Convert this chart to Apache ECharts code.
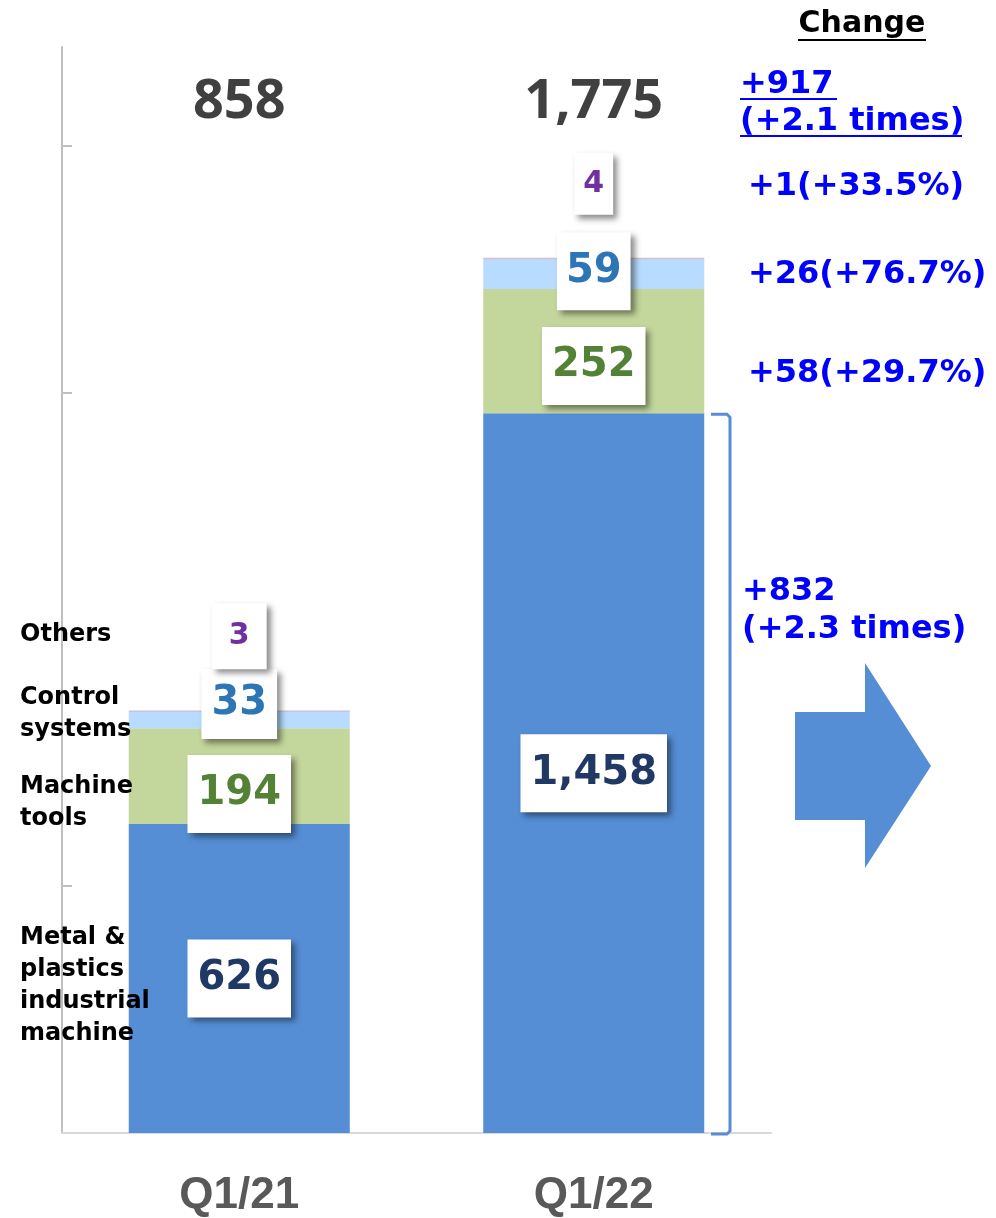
<!DOCTYPE html>
<html>
<head>
<meta charset="utf-8">
<script src="https://cdn.jsdelivr.net/npm/echarts@6/dist/echarts.min.js"></script>
<style>
  html, body { margin: 0; padding: 0; background: #fff; }
  #chart { width: 996px; height: 1218px; }
</style>
</head>
<body>
<div id="chart"></div>
<script>
// Quarterly orders by segment, stacked
const categories = ['Q1/21', 'Q1/22'];
const metal = [626, 1458];
const machineTools = [194, 252];
const controlSystems = [33, 59];
const others = [3, 4];
const totals = [858, 1775];
const tickValues = [500, 1500, 2000];

const segmentNames = ['Metal &\nplastics\nindustrial\nmachine', 'Machine\ntools', 'Control\nsystems', 'Others'];
const changeTitle = 'Change';
const totalChange = ['+917', '(+2.1 times)'];
const othersChange = '+1(+33.5%)';
const controlChange = '+26(+76.7%)';
const machineChange = '+58(+29.7%)';
const metalChange = ['+832', '(+2.3 times)'];

const FONT = '"DejaVu Sans", Verdana, sans-serif';
const BLUE = '#558ED5';

const fmt = v => v.toLocaleString('en-US');

function boxLabel(color, size, lh, padding, offset) {
  return {
    show: true,
    position: 'inside',
    formatter: p => fmt(p.value),
    color: color,
    fontFamily: FONT,
    fontWeight: 'bold',
    fontSize: size,
    lineHeight: lh,
    backgroundColor: '#ffffff',
    padding: padding,
    offset: offset,
    shadowColor: 'rgba(0,0,0,0.45)',
    shadowBlur: 6,
    shadowOffsetX: 4,
    shadowOffsetY: 4
  };
}

// per-point label placement
function items(values, labels) {
  return values.map((v, i) => ({ value: v, label: labels[i] }));
}

const chart = echarts.init(document.getElementById('chart'), null, { renderer: 'canvas' });

const option = {
  animation: false,
  backgroundColor: '#ffffff',
  grid: { left: 62, right: 225, top: 47, bottom: 83 },
  xAxis: {
    type: 'category',
    data: categories,
    axisLine: { lineStyle: { color: '#D9D9D9', width: 2 } },
    axisTick: { show: false },
    axisLabel: {
      fontSize: 44,
      fontWeight: 'bold',
      color: '#595959',
      fontFamily: '"Liberation Sans", Arial, sans-serif',
      margin: 41
    }
  },
  yAxis: {
    type: 'value',
    min: 0,
    max: 2200,
    interval: 500,
    axisLine: { show: true, lineStyle: { color: '#BFBFBF', width: 2 } },
    axisTick: {
      show: true,
      inside: true,
      length: 10,
      customValues: tickValues,
      lineStyle: { color: '#BFBFBF', width: 2 }
    },
    axisLabel: { show: false },
    splitLine: { show: false }
  },
  series: [
    {
      name: 'Metal & plastics industrial machine',
      type: 'bar',
      stack: 'orders',
      barWidth: 221,
      itemStyle: { color: BLUE },
      data: metal,
      label: boxLabel('#1F3864', 40, 48, [18, 10, 12, 10], [0, 0])
    },
    {
      name: 'Machine tools',
      type: 'bar',
      stack: 'orders',
      barWidth: 221,
      itemStyle: { color: '#C3D69B' },
      data: items(machineTools, [{ offset: [0, 18] }, { offset: [0, 15] }]),
      label: boxLabel('#538135', 40, 48, [18, 10, 12, 10], [0, 0])
    },
    {
      name: 'Control systems',
      type: 'bar',
      stack: 'orders',
      barWidth: 221,
      itemStyle: { color: '#B8DCFF' },
      data: items(controlSystems, [
        { offset: [0, -16], padding: [14, 10, 8, 10] },
        { offset: [0, -3], padding: [18, 9, 12, 9] }
      ]),
      label: boxLabel('#2E75B6', 40, 48, [16, 10, 10, 10], [0, 0])
    },
    {
      name: 'Others',
      type: 'bar',
      stack: 'orders',
      barWidth: 221,
      itemStyle: { color: '#CCC0DA' },
      data: items(others, [
        { padding: [17, 17, 13, 17] },
        { padding: [15, 9, 11, 9] }
      ]),
      label: boxLabel('#7030A0', 30, 36, [16, 12, 12, 12], [0, -75])
    }
  ]
};

chart.setOption(option);

function text(x, y, str, opts) {
  return {
    type: 'text',
    x: x,
    y: y,
    z: 100,
    style: Object.assign({
      text: str,
      font: 'bold 32px ' + FONT,
      fill: '#0000FF',
      textAlign: 'left',
      textVerticalAlign: 'middle'
    }, opts || {})
  };
}

function line(x1, y1, x2, y2, color, w) {
  return {
    type: 'line',
    z: 100,
    shape: { x1: x1, y1: y1, x2: x2, y2: y2 },
    style: { stroke: color, lineWidth: w }
  };
}

const px = (cat, val) => chart.convertToPixel({ xAxisIndex: 0, yAxisIndex: 0 }, [cat, val]);

const graphics = [];

// totals above each bar
categories.forEach((c, i) => {
  const p = px(c, 0);
  graphics.push(text(p[0], 103, fmt(totals[i]), {
    font: 'bold 54px "Noto Sans", ' + FONT, fill: '#404040', textAlign: 'center'
  }));
});

// segment names beside the first bar
const nameY = [986, 803, 714, 635];
segmentNames.forEach((n, i) => {
  graphics.push(text(20, nameY[i], n, {
    font: 'bold 24px ' + FONT, fill: '#000000', lineHeight: 32
  }));
});

// change column
graphics.push(text(862, 24, changeTitle, { font: 'bold 30px ' + FONT, fill: '#000000', textAlign: 'center' }));
graphics.push(line(798, 40, 926, 40, '#000000', 2));
graphics.push(text(740, 85, totalChange[0]));
graphics.push(line(740, 99, 837, 99, '#0000FF', 2));
graphics.push(text(740, 122, totalChange[1]));
graphics.push(line(740, 136, 962, 136, '#0000FF', 2));
graphics.push(text(748, 187, othersChange));
graphics.push(text(748, 275, controlChange));
graphics.push(text(748, 374, machineChange));
graphics.push(text(742, 592, metalChange[0]));
graphics.push(text(742, 630, metalChange[1]));

// bracket spanning the Q1/22 metal segment
const metalTopY = px(categories[1], metal[1])[1];
const baseY = px(categories[1], 0)[1];
graphics.push({
  type: 'polyline',
  z: 100,
  shape: { points: [[711, metalTopY + 1], [727, metalTopY + 1], [730, metalTopY + 4], [730, baseY - 2], [727, baseY + 1], [711, baseY + 1]] },
  style: { stroke: BLUE, lineWidth: 3, fill: null }
});

// block arrow
graphics.push({
  type: 'polygon',
  z: 100,
  shape: { points: [[795, 712], [865, 712], [865, 663], [931, 766], [865, 868], [865, 820], [795, 820]] },
  style: { fill: BLUE }
});

chart.setOption({ graphic: graphics });
</script>
</body>
</html>
